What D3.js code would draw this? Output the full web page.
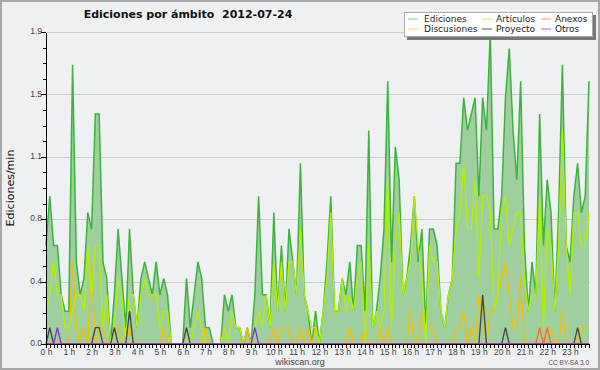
<!DOCTYPE html>
<meta charset="utf-8">
<style>
body { margin: 0; background: #fff; }
svg { display: block; }
.axis path, .axis line { stroke: #000; shape-rendering: crispEdges; }
.axis text { font-family: "Liberation Sans", sans-serif; font-size: 8.5px; fill: #444; }
.grid line { stroke: #ccc; shape-rendering: crispEdges; }
</style>
<body>
<script src="https://cdn.jsdelivr.net/npm/d3@7"></script>
<script>

// 10-minute slots, 0h00 .. 23h50 (edits per minute)
var hours = d3.range(24).map(function(h) { return h + " h"; });

var ediciones = [0.6,0.9,0.6,0.6,0.3,0.2,0.2,1.7,0.5,0.3,0.4,0.8,0.7,1.4,1.4,0.5,0.4,0,0.3,0.7,0.4,0.1,0.7,0.3,
  0.1,0.4,0.5,0.4,0.3,0.5,0.3,0.4,0.3,0,0,0,0,0.4,0.1,0.3,0.5,0.4,0.1,0.1,0,0,0,0.3,
  0.2,0.3,0.1,0.1,0,0.1,0,0.3,0.9,0.3,0.3,0.1,0.8,0.2,0.6,0.2,0.7,0.5,0.3,1.1,0.3,0.2,0,0.2,
  0,0.2,0.5,0.9,0.2,0.2,0.4,0.3,0.5,0.2,0.6,0.6,0.2,1.3,0.1,0.2,0.4,0.7,1.6,0.5,1.2,1.0,0.3,0.4,
  0.6,0.9,0.5,0.7,0.1,0.7,0.7,0.6,0.2,0.1,0.3,0.4,1.1,1.1,1.5,1.3,1.4,1.5,0.9,1.5,1.3,1.9,0.7,0.7,
  0.9,1.5,1.8,1.3,1.0,1.6,0.6,0.2,0.5,0.3,1.4,0.6,1.0,0.8,0.2,0.8,1.7,0.6,0.5,0.9,1.1,0.8,0.9,1.6];

var articulos = [0.2,0.3,0.5,0.3,0.3,0.1,0.1,0.2,0.3,0.3,0.2,0.6,0.3,0.6,0.6,0.1,0.3,0,0.1,0.4,0.3,0,0.3,0.3,
  0.1,0.3,0.4,0.3,0.3,0.3,0.1,0.2,0.2,0,0,0,0,0.1,0,0.1,0.2,0.1,0,0,0,0,0,0.1,
  0,0.2,0.1,0.1,0,0,0,0.1,0.2,0.1,0.3,0.1,0.5,0.2,0.5,0.2,0.5,0.5,0.3,0.7,0.3,0.2,0.1,0.1,
  0,0.2,0.4,0.8,0.2,0.2,0.4,0.2,0.3,0.2,0.4,0.5,0,0.6,0.1,0.2,0.1,0.2,1.0,0.1,0.6,0.8,0.3,0.4,
  0.5,0.9,0.6,0.4,0,0.6,0.5,0.5,0.2,0.1,0.3,0.4,0.7,0.8,1.1,0.7,0.7,1.0,0.4,0.9,0.9,0.8,0.2,0.3,
  0.8,0.9,0.6,0.7,0.8,0.8,0.4,0.2,0.3,0.3,0.9,0.1,0.7,0.6,0.2,0.6,1.3,0.6,0.3,0.8,0.8,0.6,0.6,0.8];

var discusiones = [0,0,0,0,0,0,0,0.5,0.1,0,0.1,0,0.5,0,0.1,0.1,0,0,0.1,0.1,0,0,0.1,0,
  0,0,0,0,0,0,0,0.1,0,0,0,0,0,0,0,0,0,0,0.1,0,0,0,0,0.1,
  0,0,0,0,0,0.1,0,0,0,0,0,0,0.1,0,0.1,0.1,0.1,0,0,0.1,0,0.1,0,0.1,
  0,0,0,0,0,0,0,0,0.1,0,0,0,0.1,0,0,0,0.1,0,0.1,0,0,0,0,0,
  0.2,0,0,0.2,0.1,0.1,0.1,0,0,0,0,0,0.1,0.1,0.2,0,0.1,0,0.3,0.2,0,0.2,0.2,0.3,
  0.4,0.5,0.3,0.1,0.1,0.4,0,0,0,0,0,0,0.1,0.1,0,0,0.2,0,0,0,0,0.1,0.1,0.1];

var anexos = d3.range(144).map(function() { return 0; });
anexos[130] = 0.1; anexos[132] = 0.1;

var proyecto = d3.range(144).map(function() { return 0; });
proyecto[1] = 0.1; proyecto[13] = 0.1; proyecto[14] = 0.1; proyecto[18] = 0.1; proyecto[22] = 0.2;
proyecto[37] = 0.1; proyecto[115] = 0.3; proyecto[121] = 0.1; proyecto[140] = 0.1;

var otros = d3.range(144).map(function() { return 0; });
otros[3] = 0.1; otros[55] = 0.1;

var series = [
  {name: "Ediciones", values: ediciones, color: "#3cb43c", legend: "#7ccf7c"},
  {name: "Discusiones", values: discusiones, color: "#f7bd00", legend: "#f8d060"},
  {name: "Artículos", values: articulos, color: "#b2f000", legend: "#c8f060"},
  {name: "Proyecto", values: proyecto, color: "#444", legend: "#555"},
  {name: "Anexos", values: anexos, color: "#ff6a20", legend: "#f89060"},
  {name: "Otros", values: otros, color: "#8a2be2", legend: "#a060e8"}
];

var W = 600, H = 370;
var x = d3.scaleLinear().domain([0, 143]).range([46, 589]);
var y = d3.scaleLinear().domain([0, 1.9]).range([344, 32]);

var svg = d3.select("body").append("svg")
    .attr("width", W)
    .attr("height", H);

svg.append("rect")
    .attr("x", 1).attr("y", 1)
    .attr("width", W - 2).attr("height", H - 2)
    .attr("fill", "#eff0f2")
    .attr("stroke", "#a8a8a8")
    .attr("stroke-width", 2);

var majors = d3.range(6).map(function(k) { return k * 0.38; });
var minors = d3.range(21).map(function(k) { return k * 0.095; });

// grid
svg.append("g").attr("class", "grid")
  .selectAll("line").data(majors.slice(1)).enter().append("line")
    .attr("x1", 46).attr("x2", 590)
    .attr("y1", function(d) { return Math.round(y(d)) + 0.5; })
    .attr("y2", function(d) { return Math.round(y(d)) + 0.5; });

var area = d3.area()
    .x(function(d, i) { return x(i); })
    .y0(y(0))
    .y1(function(d) { return y(d); });

var line = d3.line()
    .x(function(d, i) { return x(i); })
    .y(function(d) { return y(d); });

svg.append("path")
    .datum(ediciones)
    .attr("fill", "#9fce9f")
    .attr("d", area);

series.forEach(function(s, k) {
  svg.append("path")
      .datum(s.values)
      .attr("fill", "none")
      .attr("stroke", s.color)
      .attr("stroke-width", k == 0 ? 1.5 : 1.3)
      .attr("stroke-linejoin", "miter")
      .attr("d", line);
});

// y axis
svg.append("g")
    .attr("class", "axis")
    .attr("transform", "translate(46,0)")
    .call(d3.axisLeft(y).tickValues(minors).tickSize(3).tickFormat(""))
    .select(".domain").remove();

svg.append("g")
    .attr("class", "axis")
    .attr("transform", "translate(46,0)")
    .call(d3.axisLeft(y).tickValues(majors).tickSize(5).tickSizeOuter(0)
      .tickFormat(d3.format(".1f")))
  .selectAll("text")
    .attr("x", -4)
    .attr("dy", "0.2em");

// x axis
svg.append("g")
    .attr("class", "axis")
    .attr("transform", "translate(0,344)")
    .call(d3.axisBottom(x).tickValues(d3.range(144)).tickSize(4).tickSizeOuter(0)
      .tickFormat(function(d) { return d % 6 == 0 ? hours[d / 6] : ""; }))
  .selectAll("text")
    .attr("y", 5)
    .attr("dy", "0.71em");

svg.append("text")
    .attr("transform", "translate(14,188) rotate(-90)")
    .attr("text-anchor", "middle")
    .style("font-family", "DejaVu Sans")
    .style("font-size", "11px")
    .attr("fill", "#111")
    .text("Ediciones/min");

svg.append("text")
    .attr("x", 188).attr("y", 18)
    .attr("text-anchor", "middle")
    .style("font-family", "DejaVu Sans")
    .style("font-size", "11px")
    .style("font-weight", "bold")
    .style("white-space", "pre")
    .attr("fill", "#111")
    .text("Ediciones por ámbito  2012-07-24");

svg.append("text")
    .attr("x", 300).attr("y", 365)
    .attr("text-anchor", "middle")
    .style("font-family", "Liberation Sans")
    .style("font-size", "9px")
    .attr("fill", "#444")
    .text("wikiscan.org");

svg.append("text")
    .attr("x", 589).attr("y", 365)
    .attr("text-anchor", "end")
    .style("font-family", "Liberation Sans")
    .style("font-size", "6.5px")
    .attr("fill", "#555")
    .text("CC BY-SA 3.0");

// legend
var lg = svg.append("g").attr("transform", "translate(404,12)");
lg.append("rect").attr("x", 3).attr("y", 3).attr("width", 189).attr("height", 25).attr("fill", "#777");
lg.append("rect").attr("x", 0.5).attr("y", 0.5).attr("width", 188).attr("height", 24)
    .attr("fill", "#fff").attr("stroke", "#aaa");

var cols = [4, 78, 137];
var item = lg.selectAll(".item").data(series).enter().append("g")
    .attr("transform", function(d, i) {
      return "translate(" + cols[Math.floor(i / 2)] + "," + (i % 2 ? 17 : 7) + ")";
    });
item.append("line")
    .attr("x1", 0).attr("x2", 10)
    .attr("stroke", function(d) { return d.legend; })
    .attr("stroke-width", 1);
item.append("text")
    .attr("x", function(d, i) { return i < 2 ? 16 : 14; })
    .attr("dy", "0.35em")
    .style("font-family", "DejaVu Sans")
    .style("font-size", "9px")
    .attr("fill", "#222")
    .text(function(d) { return d.name; });

</script>
